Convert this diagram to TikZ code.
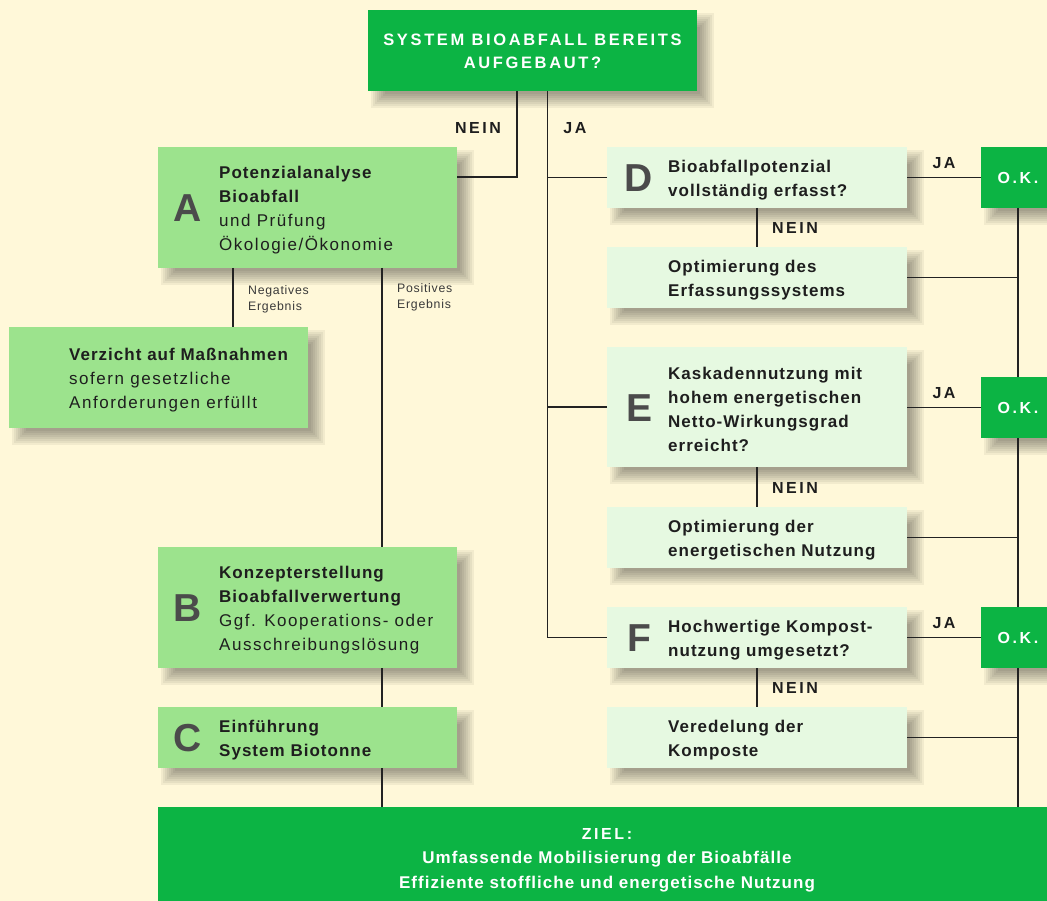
\documentclass[tikz,border=0pt]{standalone}
\usepackage{fontspec}
\setmainfont{Liberation Sans}
\newfontfamily\bfam[LetterSpace=6]{Liberation Sans}
\newfontfamily\rfam[LetterSpace=9]{Liberation Sans}
\newfontfamily\sfam[LetterSpace=6]{Liberation Sans}
\newfontfamily\cfam[LetterSpace=16]{Liberation Sans}
\definecolor{bgc}{HTML}{FFF8D9}
\definecolor{dgreen}{HTML}{0CB444}
\definecolor{lgreen}{HTML}{9CE38D}
\definecolor{pgreen}{HTML}{E6F9E1}
\definecolor{lettergrey}{HTML}{4B4B4B}
\definecolor{textc}{HTML}{1E1E1E}
\definecolor{smallc}{HTML}{3A3A3A}
\definecolor{linec}{HTML}{222222}
\pgfdeclarelayer{bglayer}
\pgfdeclarelayer{shadowlayer}
\pgfsetlayers{bglayer,shadowlayer,main}
\begin{document}
\begin{tikzpicture}[x=1pt,y=-1pt,
  box/.style={rectangle, inner sep=0pt, outer sep=0pt, anchor=north west, draw=none},
  lgbox/.style={box, fill=lgreen},
  pgbox/.style={box, fill=pgreen},
  dgbox/.style={box, fill=dgreen},
  shadowpart/.style={fill=black, opacity=0.05},
  big/.style={font=\bfam\bfseries\fontsize{39}{39}\selectfont, text=lettergrey, inner sep=0pt},
  txt/.style={anchor=west, align=left, inner sep=0pt, text=textc, font=\rfam\fontsize{17}{24}\selectfont},
  btxt/.style={txt, font=\bfam\bfseries\fontsize{17}{24}\selectfont},
  lbl/.style={font=\cfam\bfseries\fontsize{16}{16}\selectfont, text=textc, inner sep=0pt},
  small/.style={anchor=west, align=left, inner sep=0pt, text=smallc, font=\sfam\fontsize{12.3}{16}\selectfont},
  wtxt/.style={align=center, inner sep=0pt, text=white},
  oktxt/.style={wtxt, font=\cfam\bfseries\fontsize{16}{16}\selectfont},
  ln/.style={line width=1.4pt, draw=linec}
]
\useasboundingbox (0,0) rectangle (1047,901);
\begin{pgfonlayer}{bglayer}
\fill[bgc] (0,0) rectangle (1047,901);
\end{pgfonlayer}
% boxes
\node[dgbox, minimum width=329pt, minimum height=81pt] (top) at (368,10) {};
\node[lgbox, minimum width=299pt, minimum height=121pt] (A) at (158,147) {};
\node[lgbox, minimum width=299pt, minimum height=101pt] (V) at (9,327) {};
\node[lgbox, minimum width=299pt, minimum height=121pt] (B) at (158,547) {};
\node[lgbox, minimum width=299pt, minimum height=61pt] (C) at (158,707) {};
\node[pgbox, minimum width=300pt, minimum height=61pt] (D) at (607,147) {};
\node[pgbox, minimum width=300pt, minimum height=61pt] (D2) at (607,247) {};
\node[pgbox, minimum width=300pt, minimum height=120pt] (E) at (607,347) {};
\node[pgbox, minimum width=300pt, minimum height=61pt] (E2) at (607,507) {};
\node[pgbox, minimum width=300pt, minimum height=61pt] (F) at (607,607) {};
\node[pgbox, minimum width=300pt, minimum height=61pt] (F2) at (607,707) {};
\node[dgbox, minimum width=74pt, minimum height=61pt] (OK1) at (981,147) {};
\node[dgbox, minimum width=74pt, minimum height=61pt] (OK2) at (981,377) {};
\node[dgbox, minimum width=74pt, minimum height=61pt] (OK3) at (981,607) {};
\node[dgbox, minimum width=910pt, minimum height=110pt] (Z) at (158,807) {};
% soft shadows
\begin{pgfonlayer}{shadowlayer}
\foreach \n in {top,A,V,B,C,D,D2,E,E2,F,F2,OK1,OK2,OK3}{
  \foreach \e in {-7,-5,-3,-1,1,3,5,7}{
    \fill[shadowpart] ([shift={(10+\e,10+\e)}]\n.north west) rectangle ([shift={(10-\e,10-\e)}]\n.south east);
  }
}
\end{pgfonlayer}
% connectors
\coordinate (nein) at ([xshift=-15.5pt]top.south);
\coordinate (ja) at ([xshift=15pt]top.south);
\draw[ln] (nein) |- ([yshift=30.5pt]A.east);
\draw[ln] (ja) |- (F.west);
\draw[ln] (D.west) -- (D.west -| ja);
\draw[ln] (E.west) -- (E.west -| ja);
\draw[ln] ([xshift=-74.5pt]A.south) -- ([xshift=-74.5pt]A.south |- V.north);
\draw[ln] ([xshift=74.5pt]A.south) -- ([xshift=74.5pt]A.south |- B.north);
\draw[ln] ([xshift=74.5pt]B.south) -- ([xshift=74.5pt]B.south |- C.north);
\draw[ln] ([xshift=74.5pt]C.south) -- ([xshift=74.5pt]C.south |- Z.north);
\draw[ln] (D.east) -- (OK1.west);
\draw[ln] (E.east |- OK2.west) -- (OK2.west);
\draw[ln] (F.east) -- (OK3.west);
\draw[ln] (D.south) -- (D2.north);
\draw[ln] (E.south) -- (E2.north);
\draw[ln] (F.south) -- (F2.north);
\draw[ln] (OK1.south) -- (OK2.north);
\draw[ln] (OK2.south) -- (OK3.north);
\draw[ln] (OK3.south) -- (OK3.south |- Z.north);
\draw[ln] (D2.east) -- (D2.east -| OK1.south);
\draw[ln] (E2.east) -- (E2.east -| OK1.south);
\draw[ln] (F2.east) -- (F2.east -| OK1.south);
% texts
\node[wtxt, font=\cfam\bfseries\fontsize{16.5}{23}\selectfont] (topt) at (532.5,51.5) {SYSTEM BIOABFALL BEREITS\\AUFGEBAUT?};
\node[lbl] (l1) at (478,128) {NEIN};
\node[lbl] (l2) at (575,128) {JA};
\node[big] (Al) at (188,208) {A};
\node[txt] (At) at (219,210) {{\bfam\bfseries Potenzialanalyse}\\{\bfam\bfseries Bioabfall}\\und Prüfung\\Ökologie/Ökonomie};
\node[small] (neg) at (248,299) {Negatives\\Ergebnis};
\node[small] (pos) at (397,297) {Positives\\Ergebnis};
\node[txt] (Vt) at (69,380) {{\bfam\bfseries Verzicht auf Maßnahmen}\\sofern gesetzliche\\Anforderungen erfüllt};
\node[big] (Bl) at (188,608) {B};
\node[txt] (Bt) at (219,610) {{\bfam\bfseries Konzepterstellung}\\{\bfam\bfseries Bioabfallverwertung}\\Ggf. Kooperations- oder\\Ausschreibungslösung};
\node[big] (Cl) at (188,738) {C};
\node[btxt] (Ct) at (219,740) {Einführung\\System Biotonne};
\node[big] (Dl) at (639,178) {D};
\node[btxt] (Dt) at (668,180) {Bioabfallpotenzial\\vollständig erfasst?};
\node[lbl] (l3) at (944,163) {JA};
\node[lbl] (l4) at (795,228) {NEIN};
\node[btxt] (D2t) at (668,280) {Optimierung des\\Erfassungssystems};
\node[big] (El) at (639,408) {E};
\node[btxt] (Et) at (668,409.5) {Kaskadennutzung mit\\hohem energetischen\\Netto-Wirkungsgrad\\erreicht?};
\node[lbl] (l5) at (944,393) {JA};
\node[lbl] (l6) at (795,488) {NEIN};
\node[btxt] (E2t) at (668,540) {Optimierung der\\energetischen Nutzung};
\node[big] (Fl) at (639,638) {F};
\node[btxt] (Ft) at (668,640) {Hochwertige Kompost-\\nutzung umgesetzt?};
\node[lbl] (l7) at (944,623) {JA};
\node[lbl] (l8) at (795,688) {NEIN};
\node[btxt] (F2t) at (668,740) {Veredelung der\\Komposte};
\node[oktxt] (ok1) at (1018,178) {O.K.};
\node[oktxt] (ok2) at (1018,408) {O.K.};
\node[oktxt] (ok3) at (1018,638) {O.K.};
\node[wtxt, font=\bfam\bfseries\fontsize{17}{24.5}\selectfont] (Zt) at (607,860) {{\cfam\fontsize{16}{24.5}\selectfont ZIEL:}\\Umfassende Mobilisierung der Bioabfälle\\Effiziente stoffliche und energetische Nutzung};
\end{tikzpicture}
\end{document}
